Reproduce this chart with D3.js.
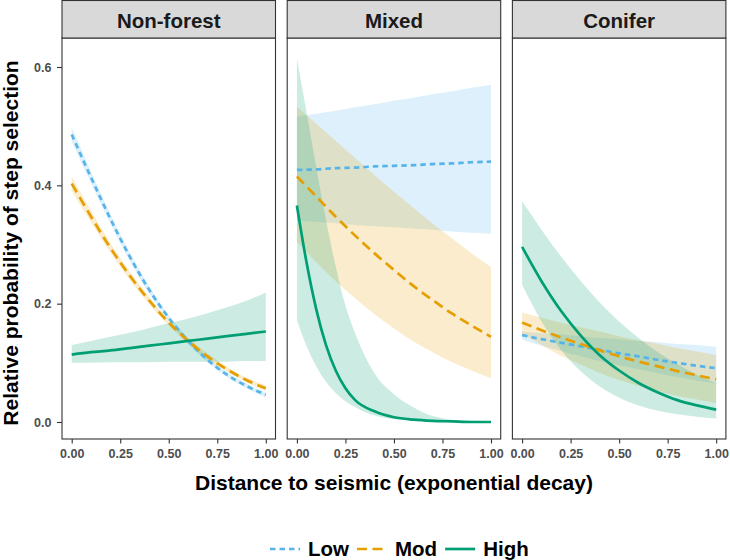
<!DOCTYPE html>
<html>
<head>
<meta charset="utf-8">
<script src="https://cdn.jsdelivr.net/npm/d3@7"></script>
<style>
  html, body { margin: 0; padding: 0; background: #fff; }
  svg { display: block; font-family: "Liberation Sans", Arial, sans-serif; }
</style>
</head>
<body>
<div id="chart"></div>
<script>
// ---------------- data ----------------
const panels = ["Non-forest", "Mixed", "Conifer"];
const levels = ["Low", "Mod", "High"];
const xTicks = [0, 0.25, 0.5, 0.75, 1];
const yTicks = [0, 0.2, 0.4, 0.6];
const xTitle = "Distance to seismic (exponential decay)";
const yTitle = "Relative probability of step selection";

const distance = [0, 0.1, 0.2, 0.3, 0.4, 0.5, 0.6, 0.7, 0.8, 0.9, 1.0];
const distanceFine = [0, 0.05, 0.1, 0.15, 0.2, 0.25, 0.3, 0.4, 0.5, 0.6, 0.7, 0.8, 0.9, 1.0];

// Non-forest
const nfLowFit  = [0.486, 0.413, 0.343, 0.279, 0.223, 0.176, 0.137, 0.105, 0.080, 0.061, 0.046];
const nfLowLo   = [0.474, 0.403, 0.335, 0.272, 0.217, 0.171, 0.132, 0.101, 0.076, 0.057, 0.042];
const nfLowHi   = [0.498, 0.423, 0.351, 0.286, 0.229, 0.181, 0.142, 0.109, 0.084, 0.065, 0.050];
const nfModFit  = [0.403, 0.347, 0.294, 0.247, 0.205, 0.168, 0.137, 0.111, 0.089, 0.071, 0.057];
const nfModLo   = [0.391, 0.337, 0.286, 0.240, 0.199, 0.163, 0.132, 0.106, 0.085, 0.067, 0.052];
const nfModHi   = [0.415, 0.357, 0.302, 0.254, 0.211, 0.173, 0.142, 0.116, 0.093, 0.075, 0.062];
const nfHighFit = [0.114, 0.118, 0.121, 0.125, 0.129, 0.133, 0.137, 0.141, 0.145, 0.149, 0.153];
const nfHighLo  = [0.100, 0.100, 0.101, 0.101, 0.101, 0.102, 0.102, 0.102, 0.102, 0.103, 0.103];
const nfHighHi  = [0.130, 0.137, 0.144, 0.151, 0.159, 0.167, 0.175, 0.184, 0.194, 0.205, 0.219];

// Mixed
const mxLowFit  = [0.426, 0.427, 0.429, 0.430, 0.432, 0.433, 0.434, 0.436, 0.437, 0.439, 0.440];
const mxLowLo   = [0.340, 0.338, 0.336, 0.333, 0.331, 0.329, 0.327, 0.325, 0.322, 0.320, 0.318];
const mxLowHi   = [0.516, 0.521, 0.526, 0.532, 0.537, 0.543, 0.548, 0.554, 0.559, 0.565, 0.570];
const mxModFit  = [0.415, 0.381, 0.347, 0.315, 0.285, 0.257, 0.230, 0.206, 0.183, 0.163, 0.144];
const mxModLo   = [0.305, 0.270, 0.238, 0.209, 0.182, 0.158, 0.136, 0.118, 0.101, 0.087, 0.074];
const mxModHi   = [0.533, 0.504, 0.475, 0.446, 0.417, 0.389, 0.362, 0.335, 0.310, 0.285, 0.262];
// (High in Mixed read on the finer distance grid)
const mxHighFit = [0.366, 0.269, 0.190, 0.130, 0.087, 0.057, 0.037, 0.018, 0.008, 0.004, 0.002, 0.001, 0.000, 0.000];
const mxHighLo  = [0.172, 0.128, 0.094, 0.068, 0.049, 0.035, 0.025, 0.011, 0.005, 0.002, 0.001, 0.000, 0.000, 0.000];
const mxHighHi  = [0.615, 0.523, 0.430, 0.341, 0.263, 0.197, 0.150, 0.082, 0.047, 0.025, 0.010, 0.004, 0.002, 0.001];

// Conifer
const cfLowFit  = [0.147, 0.140, 0.134, 0.128, 0.122, 0.116, 0.111, 0.105, 0.100, 0.095, 0.091];
const cfLowLo   = [0.139, 0.129, 0.120, 0.111, 0.103, 0.096, 0.089, 0.082, 0.076, 0.070, 0.065];
const cfLowHi   = [0.153, 0.150, 0.148, 0.145, 0.142, 0.140, 0.137, 0.135, 0.132, 0.130, 0.127];
const cfModFit  = [0.168, 0.155, 0.143, 0.132, 0.121, 0.111, 0.102, 0.094, 0.086, 0.079, 0.072];
const cfModLo   = [0.150, 0.130, 0.112, 0.097, 0.083, 0.071, 0.061, 0.052, 0.044, 0.038, 0.032];
const cfModHi   = [0.185, 0.176, 0.168, 0.160, 0.153, 0.145, 0.138, 0.132, 0.125, 0.119, 0.113];
const cfHighFit = [0.296, 0.238, 0.188, 0.147, 0.113, 0.087, 0.066, 0.050, 0.037, 0.028, 0.021];
const cfHighLo  = [0.232, 0.170, 0.122, 0.086, 0.060, 0.041, 0.028, 0.019, 0.013, 0.009, 0.006];
const cfHighHi  = [0.373, 0.325, 0.280, 0.239, 0.202, 0.170, 0.142, 0.118, 0.098, 0.080, 0.066];

// ---------------- table built from the arrays ----------------
function series(xs, fit, lo, hi) {
  return xs.map((x, i) => ({ x: x, fit: fit[i], lo: lo[i], hi: hi[i] }));
}
const table = {
  "Non-forest": {
    Low: series(distance, nfLowFit, nfLowLo, nfLowHi),
    Mod: series(distance, nfModFit, nfModLo, nfModHi),
    High: series(distance, nfHighFit, nfHighLo, nfHighHi)
  },
  "Mixed": {
    Low: series(distance, mxLowFit, mxLowLo, mxLowHi),
    Mod: series(distance, mxModFit, mxModLo, mxModHi),
    High: series(distanceFine, mxHighFit, mxHighLo, mxHighHi)
  },
  "Conifer": {
    Low: series(distance, cfLowFit, cfLowLo, cfLowHi),
    Mod: series(distance, cfModFit, cfModLo, cfModHi),
    High: series(distance, cfHighFit, cfHighLo, cfHighHi)
  }
};

// ---------------- styles ----------------
const color = d3.scaleOrdinal().domain(levels).range(["#56B4E9", "#E69F00", "#009E73"]);
const dash = { Low: "5.5,4", Mod: "10,5.5", High: null };
const lineW = 2.7;
const fontFam = '"Liberation Sans", Arial, sans-serif';

// ---------------- layout ----------------
const W = 730, H = 560;
const panelLeft0 = 62, panelW = 213.5, panelGap = 11.7;
const stripTop = 0.5, stripBottom = 38, panelBottom = 439;
const expand = panelW * 0.05 / 1.1;

const svg = d3.select("#chart").append("svg")
  .attr("width", W).attr("height", H)
  .attr("viewBox", `0 0 ${W} ${H}`);

svg.append("rect").attr("width", W).attr("height", H).attr("fill", "#fff");

const y = d3.scaleLinear().domain([0, 0.6]).range([422, 67]);

panels.forEach((p, i) => {
  const left = panelLeft0 + i * (panelW + panelGap);
  const x = d3.scaleLinear().domain([0, 1]).range([left + expand, left + panelW - expand]);
  const g = svg.append("g").attr("class", "panel");

  g.append("rect")
    .attr("x", left).attr("y", stripBottom)
    .attr("width", panelW).attr("height", panelBottom - stripBottom)
    .attr("fill", "#fff");

  const clipId = "clip" + i;
  svg.append("clipPath").attr("id", clipId).append("rect")
    .attr("x", left).attr("y", stripBottom)
    .attr("width", panelW).attr("height", panelBottom - stripBottom);

  const plot = g.append("g").attr("clip-path", `url(#${clipId})`);

  const area = d3.area()
    .x(d => x(d.x)).y0(d => y(d.lo)).y1(d => y(d.hi))
    .curve(d3.curveMonotoneX);
  const line = d3.line()
    .x(d => x(d.x)).y(d => y(d.fit))
    .curve(d3.curveMonotoneX);

  levels.forEach(l => {
    plot.append("path")
      .datum(table[p][l])
      .attr("d", area)
      .attr("fill", color(l))
      .attr("fill-opacity", 0.2)
      .attr("stroke", "none");
  });
  levels.forEach(l => {
    plot.append("path")
      .datum(table[p][l])
      .attr("d", line)
      .attr("fill", "none")
      .attr("stroke", color(l))
      .attr("stroke-width", lineW)
      .attr("stroke-dasharray", dash[l])
      .attr("stroke-linecap", "butt");
  });

  g.append("rect")
    .attr("x", left).attr("y", stripBottom)
    .attr("width", panelW).attr("height", panelBottom - stripBottom)
    .attr("fill", "none").attr("stroke", "#333333").attr("stroke-width", 1.1);

  g.append("rect")
    .attr("x", left).attr("y", stripTop)
    .attr("width", panelW).attr("height", stripBottom - stripTop)
    .attr("fill", "#D9D9D9").attr("stroke", "#333333").attr("stroke-width", 1.1);
  g.append("text")
    .attr("x", left + panelW / 2).attr("y", 27.5)
    .attr("text-anchor", "middle")
    .attr("font-family", fontFam).attr("font-weight", "bold")
    .attr("font-size", 20.5).attr("fill", "#1A1A1A")
    .text(p);

  const ax = g.append("g")
    .attr("transform", `translate(0,${panelBottom})`)
    .call(d3.axisBottom(x).tickValues(xTicks).tickFormat(d3.format(".2f")).tickSize(4.5).tickPadding(5.5));
  ax.select(".domain").remove();
  ax.selectAll(".tick line").attr("stroke", "#333333").attr("stroke-width", 1.1);
  ax.selectAll(".tick text")
    .attr("font-family", fontFam).attr("font-weight", "bold")
    .attr("font-size", 12.5).attr("fill", "#4D4D4D");

  if (i === 0) {
    const ay = g.append("g")
      .attr("transform", `translate(${left},0)`)
      .call(d3.axisLeft(y).tickValues(yTicks).tickFormat(d3.format(".1f")).tickSize(5).tickPadding(5.5));
    ay.select(".domain").remove();
    ay.selectAll(".tick line").attr("stroke", "#333333").attr("stroke-width", 1.1);
    ay.selectAll(".tick text")
      .attr("font-family", fontFam).attr("font-weight", "bold")
      .attr("font-size", 12.5).attr("fill", "#4D4D4D");
  }
});

svg.append("text")
  .attr("x", 394).attr("y", 490)
  .attr("text-anchor", "middle")
  .attr("font-family", fontFam).attr("font-weight", "bold")
  .attr("font-size", 21).attr("fill", "#000")
  .text(xTitle);

svg.append("text")
  .attr("transform", "translate(18,243) rotate(-90)")
  .attr("text-anchor", "middle")
  .attr("font-family", fontFam).attr("font-weight", "bold")
  .attr("font-size", 21).attr("fill", "#000")
  .text(yTitle);

const legend = svg.append("g").attr("class", "legend");
let lx = 270;
const ly = 549;
levels.forEach(l => {
  legend.append("line")
    .attr("x1", lx).attr("x2", lx + 30)
    .attr("y1", ly).attr("y2", ly)
    .attr("stroke", color(l)).attr("stroke-width", lineW)
    .attr("stroke-dasharray", dash[l]);
  const t = legend.append("text")
    .attr("x", lx + 38).attr("y", ly + 7.3)
    .attr("font-family", fontFam).attr("font-weight", "bold")
    .attr("font-size", 20.5).attr("fill", "#000")
    .text(l);
  lx = lx + 38 + t.node().getComputedTextLength() + 8;
});
</script>
</body>
</html>
